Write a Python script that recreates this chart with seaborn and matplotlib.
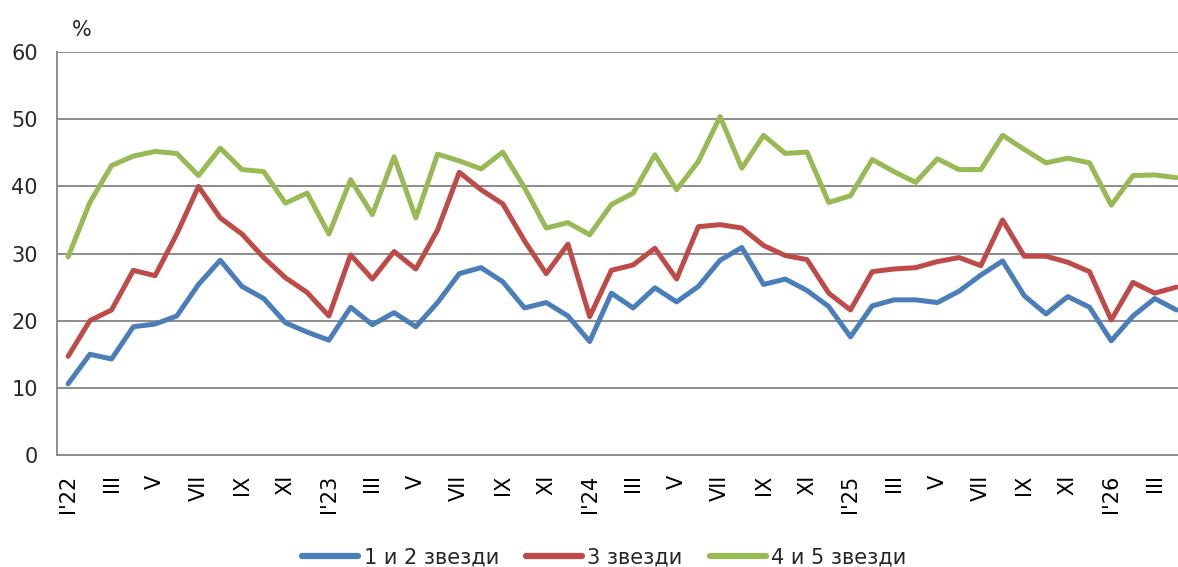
import numpy as np
import pandas as pd
import matplotlib
matplotlib.use("Agg")
import matplotlib.pyplot as plt
import seaborn as sns

# monthly shares, I'22 .. IV'26
stars_1_2 = [10.6, 15.0, 14.3, 19.1, 19.5, 20.7, 25.4, 29.0, 25.1, 23.3, 19.7, 18.3,
             17.1, 22.0, 19.4, 21.2, 19.1, 22.7, 27.0, 27.9, 25.8, 21.9, 22.7, 20.7,
             16.9, 24.1, 21.9, 24.9, 22.8, 25.1, 29.0, 30.9, 25.4, 26.2, 24.5, 22.1,
             17.6, 22.2, 23.1, 23.1, 22.7, 24.4, 26.8, 28.9, 23.7, 21.0, 23.6, 22.0,
             17.0, 20.7, 23.3, 21.6]
stars_3 = [14.7, 20.0, 21.6, 27.5, 26.7, 32.9, 40.0, 35.3, 32.9, 29.4, 26.4, 24.2,
           20.7, 29.8, 26.2, 30.3, 27.7, 33.5, 42.1, 39.5, 37.4, 31.9, 27.0, 31.4,
           20.6, 27.5, 28.3, 30.8, 26.2, 34.0, 34.3, 33.8, 31.2, 29.7, 29.1, 24.1,
           21.6, 27.3, 27.7, 27.9, 28.8, 29.4, 28.2, 35.0, 29.6, 29.6, 28.7, 27.3,
           20.1, 25.7, 24.1, 25.0]
stars_4_5 = [29.5, 37.6, 43.1, 44.5, 45.2, 44.9, 41.6, 45.7, 42.5, 42.2, 37.5, 39.0,
             32.9, 41.0, 35.8, 44.4, 35.3, 44.8, 43.8, 42.6, 45.1, 39.8, 33.8, 34.6,
             32.8, 37.3, 39.0, 44.7, 39.5, 43.7, 50.4, 42.7, 47.6, 44.9, 45.1, 37.6,
             38.6, 44.0, 42.2, 40.6, 44.1, 42.5, 42.5, 47.6, 45.5, 43.5, 44.2, 43.5,
             37.2, 41.6, 41.7, 41.3]

months = ["I", "II", "III", "IV", "V", "VI", "VII", "VIII", "IX", "X", "XI", "XII"]
years = ["22", "23", "24", "25", "26"]
tick_labels = []
for y in years:
    for m in months:
        tick_labels.append(m + "'" + y if m == "I" else m)
tick_labels = tick_labels[:len(stars_1_2)]

series_names = ["1 и 2 звезди", "3 звезди", "4 и 5 звезди"]
colors = ["#4A7EBB", "#BE4B48", "#98B954"]

x = np.arange(len(stars_1_2))
df = pd.DataFrame({
    "x": np.tile(x, 3),
    "value": stars_1_2 + stars_3 + stars_4_5,
    "series": np.repeat(series_names, len(x)),
})

sns.set_style("white")
plt.rcParams["font.family"] = ["DejaVu Sans"]

fig = plt.figure(figsize=(11.78, 5.67), dpi=100)
ax = fig.add_axes([0.0486, 0.1975, 0.9593, 0.7107])

sns.lineplot(data=df, x="x", y="value", hue="series", palette=colors,
             linewidth=3.6, ax=ax, legend=True)

grid_col = "#8C8C8C"
ax.set_xlim(-0.5, len(x) - 0.5)
ax.set_ylim(0, 60)
ax.set_yticks(range(0, 61, 10))
ax.yaxis.grid(True, color=grid_col, linewidth=1.4)
ax.set_axisbelow(True)

ax.set_xticks(x[::2])
ax.set_xticklabels(tick_labels[::2], rotation=90)
ax.set_xticks(np.arange(-0.5, len(x) + 0.5, 1), minor=True)
ax.tick_params(axis="x", which="major", length=0, pad=14, labelsize=15, colors="black")
ax.tick_params(axis="x", which="minor", length=7, width=1.2, color=grid_col, direction="out")
ax.tick_params(axis="y", length=7, width=1.2, color=grid_col, direction="out",
               labelsize=15, pad=7)
ax.set_xlabel("")
ax.set_ylabel("")

for side in ["top", "right"]:
    ax.spines[side].set_visible(False)
for side in ["left", "bottom"]:
    ax.spines[side].set_color(grid_col)
    ax.spines[side].set_linewidth(1.4)

fig.text(0.061, 0.937, "%", fontsize=15)

ax.legend_.remove()
handles, labels = ax.get_legend_handles_labels()
for h in handles:
    h.set_linewidth(4.5)
fig.legend(handles, labels, loc="center", bbox_to_anchor=(0.513, 0.017),
           ncol=3, frameon=False, fontsize=15, handlelength=2.7,
           handletextpad=0.25, columnspacing=1.3)

fig.savefig("out.png", dpi=100)
